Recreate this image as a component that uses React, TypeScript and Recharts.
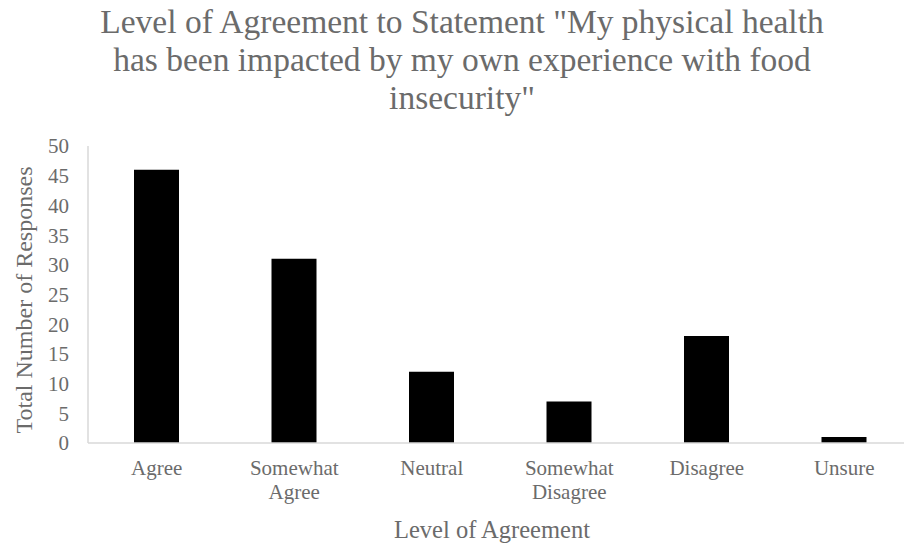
import React from 'react';
import { BarChart, Bar, XAxis, YAxis } from 'recharts';

const categories = ['Agree', 'Somewhat\nAgree', 'Neutral', 'Somewhat\nDisagree', 'Disagree', 'Unsure'];
const responses = [46, 31, 12, 7, 18, 1];
const yTicks = [0, 5, 10, 15, 20, 25, 30, 35, 40, 45, 50];
const titleLines = [
  'Level of Agreement to Statement "My physical health',
  'has been impacted by my own experience with food',
  'insecurity"',
];

const FONT = '"Liberation Serif", "Times New Roman", serif';
const TEXT_COLOR = '#6b6b6b';
const AXIS_COLOR = '#d9d9d9';

const data = categories.map((name, i) => ({ name, value: responses[i] }));

// multi-line category labels, split on \n
const CategoryTick = (props: any) => {
  const { x, y, payload } = props;
  const lines = String(payload.value).split('\n');
  return (
    <text x={x} y={y} textAnchor="middle" fill={TEXT_COLOR} fontSize={21} style={{ fontFamily: FONT }}>
      {lines.map((line, i) => (
        <tspan key={i} x={x} dy={i === 0 ? 15 : 24}>
          {line}
        </tspan>
      ))}
    </text>
  );
};

const textStyle = { fontFamily: FONT, fill: TEXT_COLOR };

export default function App() {
  return (
    <div
      style={{
        position: 'absolute',
        left: 0,
        top: 0,
        width: 904,
        height: 544,
        overflow: 'hidden',
        background: '#fff',
      }}
    >
      <BarChart
        width={913}
        height={544}
        data={data}
        margin={{ top: 146, right: 0, bottom: 0, left: 0 }}
        barCategoryGap={0}
      >
        <XAxis
          dataKey="name"
          height={101}
          axisLine={{ stroke: AXIS_COLOR, strokeWidth: 1.5 }}
          tickLine={false}
          tickSize={0}
          tickMargin={17}
          interval={0}
          tick={<CategoryTick />}
        />
        <YAxis
          width={88}
          domain={[0, 50]}
          ticks={yTicks}
          interval={0}
          axisLine={{ stroke: AXIS_COLOR, strokeWidth: 1.5 }}
          tickLine={false}
          tickSize={0}
          tickMargin={19}
          tick={{ fill: TEXT_COLOR, fontSize: 21, style: { fontFamily: FONT } }}
        />
        <Bar dataKey="value" fill="#000" barSize={45} isAnimationActive={false} />
      </BarChart>
      <svg
        width={904}
        height={544}
        style={{ position: 'absolute', left: 0, top: 0, pointerEvents: 'none' }}
      >
        {titleLines.map((line, i) => (
          <text key={i} x={462} y={33 + i * 38} textAnchor="middle" fontSize={33.5} style={textStyle}>
            {line}
          </text>
        ))}
        <text
          x={32}
          y={300}
          textAnchor="middle"
          fontSize={24}
          style={textStyle}
          transform="rotate(-90, 32, 300)"
        >
          Total Number of Responses
        </text>
        <text x={492} y={538} textAnchor="middle" fontSize={24.5} style={textStyle}>
          Level of Agreement
        </text>
      </svg>
    </div>
  );
}
